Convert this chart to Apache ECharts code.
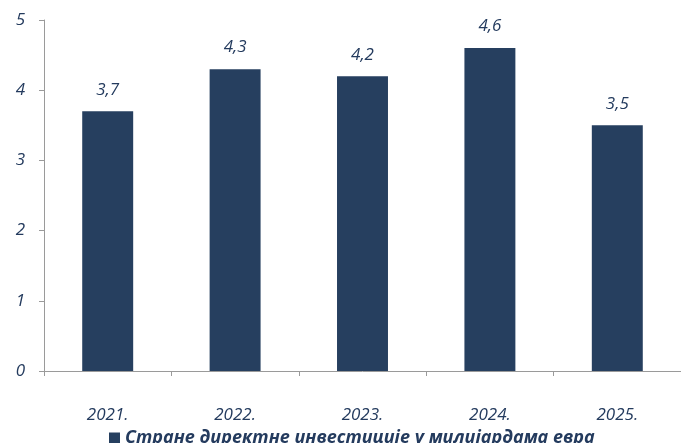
<!DOCTYPE html>
<html><head><meta charset="utf-8">
<script src="https://cdn.jsdelivr.net/npm/echarts@6/dist/echarts.min.js"></script>
<style>html,body{margin:0;padding:0;background:#fff}#c{width:681px;height:443px}</style>
</head><body><div id="c"></div>
<script>
const categories = ['2021.', '2022.', '2023.', '2024.', '2025.'];
const values = [3.7, 4.3, 4.2, 4.6, 3.5];
const seriesName = 'Стране директне инвестиције у милијардама евра';
const yTicks = [0, 1, 2, 3, 4, 5];

const chart = echarts.init(document.getElementById('c'), null, {renderer: 'canvas'});
const txt = '#243B5E';
const font = 'Open Sans';
chart.setOption({
  animation: false,
  backgroundColor: '#fff',
  grid: {left: 44, right: -6, top: 20, bottom: 72, containLabel: false},
  legend: {
    data: [seriesName], left: 104, top: 424, itemWidth: 11, itemHeight: 11, itemGap: 5,
    icon: 'rect',
    textStyle: {fontFamily: font, fontStyle: 'italic', fontWeight: 'bold', fontSize: 18, color: txt}
  },
  xAxis: {
    type: 'category', data: categories,
    axisLine: {lineStyle: {color: '#9a9a9a', width: 1}},
    axisTick: {show: true, length: 5, lineStyle: {color: '#9a9a9a'}},
    axisLabel: {margin: 36, fontFamily: font, fontStyle: 'italic', fontSize: 17, color: txt}
  },
  yAxis: {
    type: 'value', min: yTicks[0], max: yTicks[yTicks.length - 1], interval: 1,
    axisLine: {show: true, lineStyle: {color: '#9a9a9a'}},
    axisTick: {show: true, length: 5, lineStyle: {color: '#9a9a9a'}},
    splitLine: {show: false},
    axisLabel: {margin: 19, fontFamily: font, fontStyle: 'italic', fontSize: 17, color: txt,
      formatter: v => String(v)}
  },
  series: [{
    name: seriesName, type: 'bar', data: values, barWidth: '40%',
    itemStyle: {color: '#263F5F'},
    label: {show: true, position: 'top', distance: 13, fontFamily: font, fontStyle: 'italic', fontSize: 17, color: txt,
      formatter: p => String(p.value).replace('.', ',')}
  }]
});
</script></body></html>
